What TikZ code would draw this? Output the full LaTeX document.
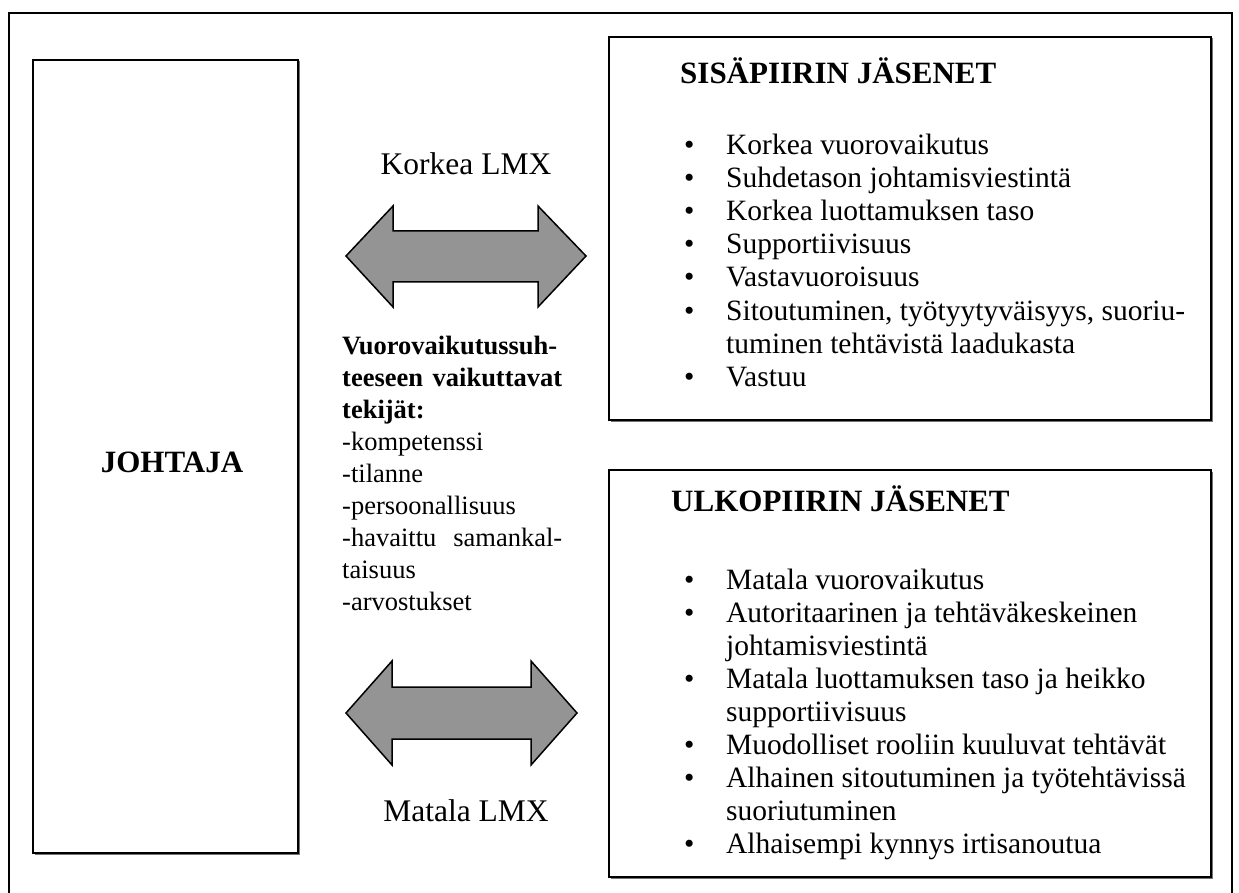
\documentclass[tikz,border=0pt]{standalone}
\usepackage{fontspec}
\setmainfont{Liberation Serif}
\usetikzlibrary{shadows}
\definecolor{arrowgray}{RGB}{148,148,148}
\begin{document}
\begin{tikzpicture}[x=1pt,y=-1pt,
  frameline/.style={line width=2pt,draw=black},
  box/.style={line width=2pt,draw=black,fill=white,inner sep=0pt,
    drop shadow={shadow xshift=1.5pt,shadow yshift=-1.5pt,fill=black!55,opacity=1}},
  arr/.style={line width=1.5pt,draw=black,fill=arrowgray,line join=miter},
  lbl/.style={inner sep=0pt,font=\fontsize{31.5}{36}\selectfont},
  head/.style={anchor=base west,inner sep=0pt,font=\fontsize{31}{36}\selectfont\bfseries},
  listtxt/.style={anchor=base west,inner sep=0pt,font=\fontsize{29.5}{33}\selectfont},
  midtxt/.style={anchor=base west,inner sep=0pt,font=\fontsize{26.5}{32}\selectfont},
  midbold/.style={midtxt,font=\fontsize{26.5}{32}\selectfont\bfseries}]
\useasboundingbox (0,0) rectangle (1239,893);
\fill[white] (0,0) rectangle (1239,893);
% outer frame
\coordinate (fbl) at (9,893);
\coordinate (ftl) at (9,13);
\coordinate (ftr) at (1232,13);
\coordinate (fbr) at (1232,893);
\draw[frameline] (fbl) -- (ftl) -- (ftr) -- (fbr);
% boxes
\node[box,minimum width=265pt,minimum height=793pt] (johtaja) at (165.5,456.5) {};
\node[inner sep=0pt,font=\fontsize{31}{36}\selectfont\bfseries] (jtext) at (172,462) {JOHTAJA};
\node[box,minimum width=602pt,minimum height=383pt] (sisa) at (910,228.5) {};
\node[box,minimum width=602pt,minimum height=407pt] (ulko) at (910,673.5) {};
% arrows
\draw[arr] (346,256) -- (393,206) -- (393,231) -- (538,231) -- (538,206) -- (586,256)
  -- (538,307) -- (538,282) -- (393,282) -- (393,307) -- cycle;
\draw[arr] (346,713) -- (392,661) -- (392,687) -- (531,687) -- (531,661) -- (577,713)
  -- (531,765) -- (531,739) -- (392,739) -- (392,765) -- cycle;
% LMX labels
\node[lbl] (korkea) at (466,164) {Korkea LMX};
\node[lbl] (matala) at (466,811) {Matala LMX};
% middle text
\node[midbold] (m1) at (342,354) {Vuorovaikutussuh-};
\node[midbold] (m2) at (342,386) {\makebox[220pt][s]{teeseen\hfill vaikuttavat}};
\node[midbold] (m3) at (342,418) {tekijät:};
\node[midtxt] (m4) at (342,450) {-kompetenssi};
\node[midtxt] (m5) at (342,482) {-tilanne};
\node[midtxt] (m6) at (342,514) {-persoonallisuus};
\node[midtxt] (m7) at (342,546) {\makebox[220pt][s]{-havaittu\hfill samankal-}};
\node[midtxt] (m8) at (342,578) {taisuus};
\node[midtxt] (m9) at (342,610) {-arvostukset};
% top list
\node[head] (shead) at (680,84) {SISÄPIIRIN JÄSENET};
\node[listtxt] (s1) at (684,155) {\makebox[42pt][l]{•}Korkea vuorovaikutus};
\node[listtxt] (s2) at (684,188) {\makebox[42pt][l]{•}Suhdetason johtamisviestintä};
\node[listtxt] (s3) at (684,221) {\makebox[42pt][l]{•}Korkea luottamuksen taso};
\node[listtxt] (s4) at (684,254) {\makebox[42pt][l]{•}Supportiivisuus};
\node[listtxt] (s5) at (684,287) {\makebox[42pt][l]{•}Vastavuoroisuus};
\node[listtxt] (s6) at (684,320) {\makebox[42pt][l]{•}Sitoutuminen, työtyytyväisyys, suoriu-};
\node[listtxt] (s7) at (726,353) {tuminen tehtävistä laadukasta};
\node[listtxt] (s8) at (684,386) {\makebox[42pt][l]{•}Vastuu};
% bottom list
\node[head] (uhead) at (671,511) {ULKOPIIRIN JÄSENET};
\node[listtxt] (u1) at (684,589) {\makebox[42pt][l]{•}Matala vuorovaikutus};
\node[listtxt] (u2) at (684,622) {\makebox[42pt][l]{•}Autoritaarinen ja tehtäväkeskeinen};
\node[listtxt] (u3) at (726,655) {johtamisviestintä};
\node[listtxt] (u4) at (684,688) {\makebox[42pt][l]{•}Matala luottamuksen taso ja heikko};
\node[listtxt] (u5) at (726,721) {supportiivisuus};
\node[listtxt] (u6) at (684,754) {\makebox[42pt][l]{•}Muodolliset rooliin kuuluvat tehtävät};
\node[listtxt] (u7) at (684,787) {\makebox[42pt][l]{•}Alhainen sitoutuminen ja työtehtävissä};
\node[listtxt] (u8) at (726,820) {suoriutuminen};
\node[listtxt] (u9) at (684,853) {\makebox[42pt][l]{•}Alhaisempi kynnys irtisanoutua};
\end{tikzpicture}
\end{document}
